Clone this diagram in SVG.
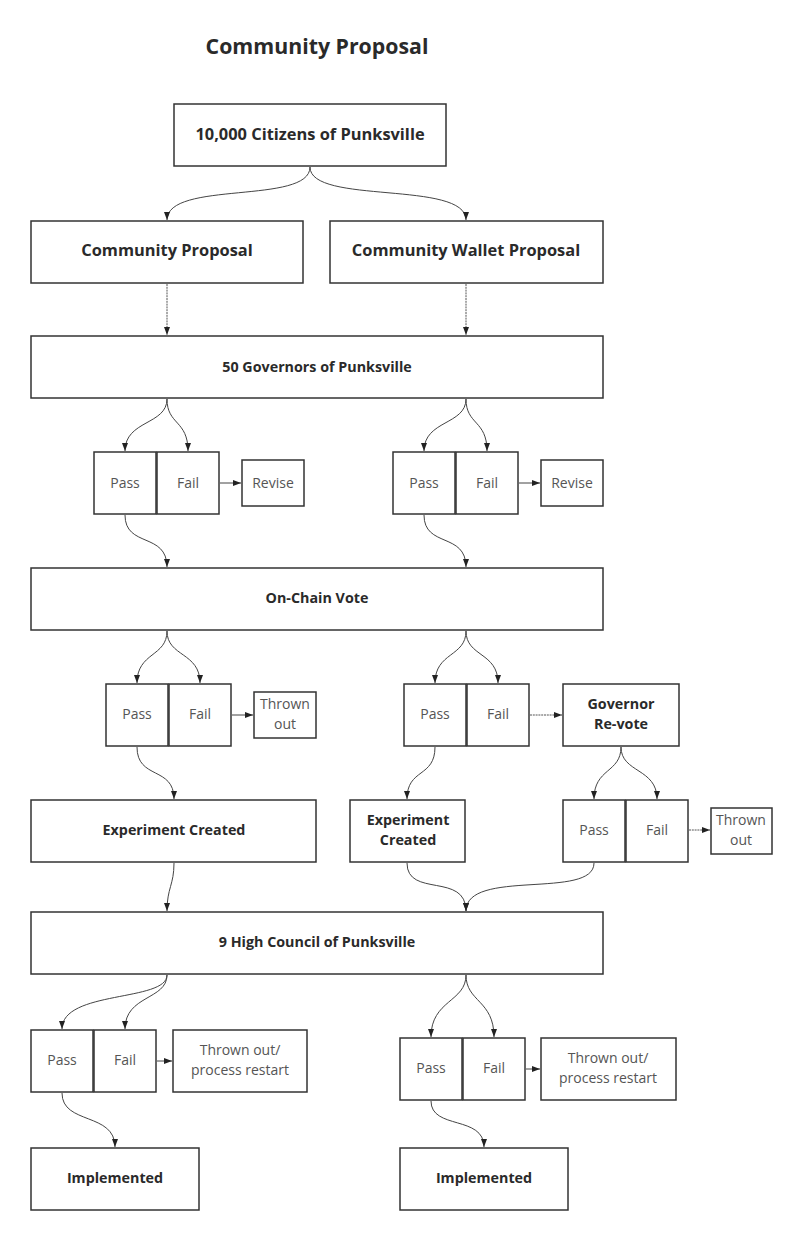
<svg xmlns="http://www.w3.org/2000/svg" width="804" height="1242" viewBox="0 0 804 1242">
<defs>
<style>
.box{fill:#fff;stroke:#333;stroke-width:1.5}
.b{font-family:"Open Sans","Liberation Sans",sans-serif;font-weight:bold;fill:#2a2a2a;text-anchor:middle}
.r{font-family:"Open Sans","Liberation Sans",sans-serif;font-size:14px;fill:#555;text-anchor:middle}
.c{fill:none;stroke:#444;stroke-width:1}
.d{fill:none;stroke:#555;stroke-width:1;stroke-dasharray:2 0.8}
</style>
<marker id="ah" markerWidth="8" markerHeight="6" refX="8" refY="3" orient="auto" markerUnits="userSpaceOnUse">
<path d="M0,0 L8,3 L0,6 z" fill="#222"/>
</marker>
</defs>
<rect width="804" height="1242" fill="#fff"/>
<text x="317" y="54" class="b" style="font-size:21.3px">Community Proposal</text>

<g id="connectors">
<path class="c" marker-end="url(#ah)" d="M310,167 C310,205 167,180 167,220"/>
<path class="c" marker-end="url(#ah)" d="M310,167 C310,205 466,180 466,220"/>
<path class="d" marker-end="url(#ah)" d="M167,284 L167,335"/>
<path class="d" marker-end="url(#ah)" d="M466,284 L466,335"/>
<path class="c" marker-end="url(#ah)" d="M167,399 C167,425 125,420 125,451"/>
<path class="c" marker-end="url(#ah)" d="M167,399 C167,425 188,420 188,451"/>
<path class="c" marker-end="url(#ah)" d="M466,399 C466,425 424,420 424,451"/>
<path class="c" marker-end="url(#ah)" d="M466,399 C466,425 487,420 487,451"/>
<path class="c" marker-end="url(#ah)" d="M220,483 L241,483"/>
<path class="c" marker-end="url(#ah)" d="M519,483 L540,483"/>
<path class="c" marker-end="url(#ah)" d="M125,515 C125,548 167,532 167,567"/>
<path class="c" marker-end="url(#ah)" d="M424,515 C424,548 466,532 466,567"/>
<path class="c" marker-end="url(#ah)" d="M167,631 C167,657 137,652 137,683"/>
<path class="c" marker-end="url(#ah)" d="M167,631 C167,657 200,652 200,683"/>
<path class="c" marker-end="url(#ah)" d="M466,631 C466,657 435,652 435,683"/>
<path class="c" marker-end="url(#ah)" d="M466,631 C466,657 498,652 498,683"/>
<path class="c" marker-end="url(#ah)" d="M232,715 L253,715"/>
<path class="d" marker-end="url(#ah)" d="M530,715 L562,715"/>
<path class="c" marker-end="url(#ah)" d="M137,747 C137,780 174,766 174,799"/>
<path class="c" marker-end="url(#ah)" d="M435,747 C435,778 407,768 407,799"/>
<path class="c" marker-end="url(#ah)" d="M621,747 C621,773 594,768 594,799"/>
<path class="c" marker-end="url(#ah)" d="M621,747 C621,773 657,768 657,799"/>
<path class="d" marker-end="url(#ah)" d="M689,830 L710,830"/>
<path class="c" marker-end="url(#ah)" d="M174,863 C174,885 167,888 167,911"/>
<path class="c" marker-end="url(#ah)" d="M407,863 C407,898 466,872 466,911"/>
<path class="c" marker-end="url(#ah)" d="M594,863 C594,900 466,868 466,911"/>
<path class="c" marker-end="url(#ah)" d="M167,975 C167,1002 62,990 62,1029"/>
<path class="c" marker-end="url(#ah)" d="M167,975 C167,1000 125,995 125,1029"/>
<path class="c" marker-end="url(#ah)" d="M157,1061 L172,1061"/>
<path class="c" marker-end="url(#ah)" d="M62,1093 C62,1125 115,1112 115,1147"/>
<path class="c" marker-end="url(#ah)" d="M466,975 C466,1002 431,1000 431,1037"/>
<path class="c" marker-end="url(#ah)" d="M466,975 C466,1002 494,1000 494,1037"/>
<path class="c" marker-end="url(#ah)" d="M526,1069 L540,1069"/>
<path class="c" marker-end="url(#ah)" d="M431,1101 C431,1130 484,1115 484,1147"/>
</g>

<g id="citizens"><rect class="box" x="174" y="104" width="272" height="62"/><text class="b" x="310" y="140" style="font-size:16.4px">10,000 Citizens of Punksville</text></g>
<g id="community-proposal"><rect class="box" x="31" y="221" width="272" height="62"/><text class="b" x="167" y="256" style="font-size:16.4px">Community Proposal</text></g>
<g id="wallet-proposal"><rect class="box" x="330" y="221" width="273" height="62"/><text class="b" x="466" y="256" style="font-size:16.4px">Community Wallet Proposal</text></g>
<g id="governors"><rect class="box" x="31" y="336" width="572" height="62"/><text class="b" x="317" y="372" style="font-size:14.3px">50 Governors of Punksville</text></g>

<g id="gov-pass-l"><rect class="box" x="94" y="452" width="62" height="62"/><text class="r" x="125" y="488">Pass</text></g>
<g id="gov-fail-l"><rect class="box" x="157" y="452" width="62" height="62"/><text class="r" x="188" y="488">Fail</text></g>
<g id="revise-l"><rect class="box" x="242" y="460" width="62" height="46"/><text class="r" x="273" y="488">Revise</text></g>
<g id="gov-pass-r"><rect class="box" x="393" y="452" width="62" height="62"/><text class="r" x="424" y="488">Pass</text></g>
<g id="gov-fail-r"><rect class="box" x="456" y="452" width="62" height="62"/><text class="r" x="487" y="488">Fail</text></g>
<g id="revise-r"><rect class="box" x="541" y="460" width="62" height="46"/><text class="r" x="572" y="488">Revise</text></g>

<g id="onchain"><rect class="box" x="31" y="568" width="572" height="62"/><text class="b" x="317" y="603" style="font-size:14.3px">On-Chain Vote</text></g>

<g id="oc-pass-l"><rect class="box" x="106" y="684" width="62" height="62"/><text class="r" x="137" y="719">Pass</text></g>
<g id="oc-fail-l"><rect class="box" x="169" y="684" width="62" height="62"/><text class="r" x="200" y="719">Fail</text></g>
<g id="thrown-l"><rect class="box" x="254" y="692" width="62" height="46"/><text class="r" x="285" y="709">Thrown</text><text class="r" x="285" y="729">out</text></g>
<g id="oc-pass-r"><rect class="box" x="404" y="684" width="62" height="62"/><text class="r" x="435" y="719">Pass</text></g>
<g id="oc-fail-r"><rect class="box" x="467" y="684" width="62" height="62"/><text class="r" x="498" y="719">Fail</text></g>
<g id="governor-revote"><rect class="box" x="563" y="684" width="116" height="62"/><text class="b" x="621" y="709" style="font-size:14.3px">Governor</text><text class="b" x="621" y="729" style="font-size:14.3px">Re-vote</text></g>

<g id="experiment-l"><rect class="box" x="31" y="800" width="285" height="62"/><text class="b" x="174" y="835" style="font-size:14.3px">Experiment Created</text></g>
<g id="experiment-r"><rect class="box" x="350" y="800" width="115" height="62"/><text class="b" x="408" y="825" style="font-size:14.3px">Experiment</text><text class="b" x="408" y="845" style="font-size:14.3px">Created</text></g>
<g id="rv-pass"><rect class="box" x="563" y="800" width="62" height="62"/><text class="r" x="594" y="835">Pass</text></g>
<g id="rv-fail"><rect class="box" x="626" y="800" width="62" height="62"/><text class="r" x="657" y="835">Fail</text></g>
<g id="thrown-r"><rect class="box" x="711" y="808" width="61" height="46"/><text class="r" x="741" y="825">Thrown</text><text class="r" x="741" y="845">out</text></g>

<g id="high-council"><rect class="box" x="31" y="912" width="572" height="62"/><text class="b" x="317" y="947" style="font-size:14.3px">9 High Council of Punksville</text></g>

<g id="hc-pass-l"><rect class="box" x="31" y="1030" width="62" height="62"/><text class="r" x="62" y="1065">Pass</text></g>
<g id="hc-fail-l"><rect class="box" x="94" y="1030" width="62" height="62"/><text class="r" x="125" y="1065">Fail</text></g>
<g id="restart-l"><rect class="box" x="173" y="1030" width="134" height="62"/><text class="r" x="240" y="1055">Thrown out/</text><text class="r" x="240" y="1075">process restart</text></g>
<g id="hc-pass-r"><rect class="box" x="400" y="1038" width="62" height="62"/><text class="r" x="431" y="1073">Pass</text></g>
<g id="hc-fail-r"><rect class="box" x="463" y="1038" width="62" height="62"/><text class="r" x="494" y="1073">Fail</text></g>
<g id="restart-r"><rect class="box" x="541" y="1038" width="135" height="62"/><text class="r" x="608" y="1063">Thrown out/</text><text class="r" x="608" y="1083">process restart</text></g>

<g id="implemented-l"><rect class="box" x="31" y="1148" width="168" height="62"/><text class="b" x="115" y="1183" style="font-size:14.3px">Implemented</text></g>
<g id="implemented-r"><rect class="box" x="400" y="1148" width="168" height="62"/><text class="b" x="484" y="1183" style="font-size:14.3px">Implemented</text></g>
</svg>
